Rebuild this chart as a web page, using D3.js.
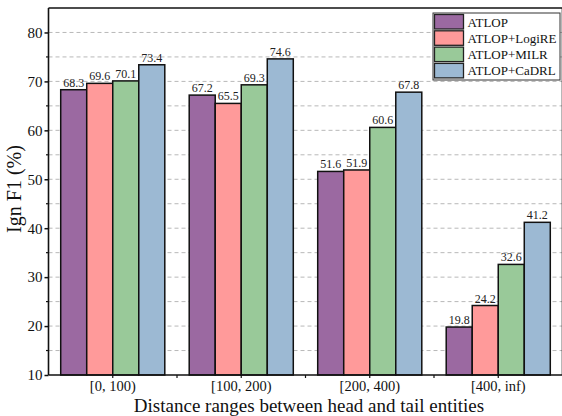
<!DOCTYPE html>
<html><head><meta charset="utf-8">
<script src="https://cdn.jsdelivr.net/npm/d3@7"></script>
<style>body{margin:0;background:#fff}svg{display:block}text{font-family:"Liberation Serif","Times New Roman",serif}</style>
</head><body>
<svg id="c" width="562" height="416"></svg>
<script>
const categories = ["[0, 100)", "[100, 200)", "[200, 400)", "[400, inf)"];
const seriesNames = ["ATLOP", "ATLOP+LogiRE", "ATLOP+MILR", "ATLOP+CaDRL"];
const atlop  = [68.3, 67.2, 51.6, 19.8];
const logire = [69.6, 65.5, 51.9, 24.2];
const milr   = [70.1, 69.3, 60.6, 32.6];
const cadrl  = [73.4, 74.6, 67.8, 41.2];
const yTicks = [10, 20, 30, 40, 50, 60, 70, 80];
const colors = ["#9b69a1", "#ff9a9a", "#99c999", "#9cb9d3"];
const series = [atlop, logire, milr, cadrl];

const svg = d3.select("#c");
const m = {l: 48.5, t: 8, r: 562.5, b: 375};
const x = d3.scaleBand().domain(categories).range([m.l, m.r]).paddingInner(0.19).paddingOuter(0.095);
const xs = d3.scaleBand().domain(seriesNames).range([0, x.bandwidth()]);
const y = d3.scaleLinear().domain([10, 85]).range([m.b, m.t]);

// grid
const grid = d3.range(15, 85, 5);
svg.append("g").selectAll("line").data(grid).join("line")
  .attr("x1", m.l).attr("x2", m.r).attr("y1", d => y(d)).attr("y2", d => y(d))
  .attr("stroke", "#b8b8b8").attr("stroke-width", 1).attr("stroke-dasharray", "4,3");

// bars
series.forEach((s, i) => {
  const g = svg.append("g");
  g.selectAll("rect").data(s).join("rect")
    .attr("x", (d, j) => x(categories[j]) + xs(seriesNames[i]))
    .attr("y", d => y(d)).attr("width", xs.bandwidth()).attr("height", d => y(10) - y(d))
    .attr("fill", colors[i]).attr("stroke", "#111").attr("stroke-width", 1.5);
  g.selectAll("text").data(s).join("text")
    .attr("x", (d, j) => x(categories[j]) + xs(seriesNames[i]) + xs.bandwidth() / 2)
    .attr("y", d => y(d) - 3).attr("text-anchor", "middle")
    .attr("font-size", 12).attr("fill", "#222").text(d => d.toFixed(1));
});

// y axis
const ya = d3.axisLeft(y).tickValues(yTicks).tickSize(4).tickPadding(2).tickFormat(d3.format("d"));
const yg = svg.append("g").attr("transform", `translate(${m.l},0)`).call(ya);
yg.select(".domain").remove();
yg.selectAll("text").attr("font-size", 15).attr("fill", "#111");
yg.selectAll("line").attr("stroke", "#111").attr("stroke-width", 1.5);
svg.append("g").selectAll("line").data(d3.range(15, 85, 10)).join("line")
  .attr("x1", m.l - 2.5).attr("x2", m.l).attr("y1", d => y(d)).attr("y2", d => y(d))
  .attr("stroke", "#111").attr("stroke-width", 1.2);

// x axis
const xa = d3.axisBottom(x).tickSize(3).tickPadding(2.5);
const xg = svg.append("g").attr("transform", `translate(0,${m.b})`).call(xa);
xg.select(".domain").remove();
xg.selectAll("text").attr("font-size", 14.5).attr("fill", "#111");
xg.selectAll("line").attr("stroke", "#111").attr("stroke-width", 1.2);
const gap = (x.step() - x.bandwidth()) / 2;
svg.append("g").selectAll("line").data(categories.slice(1)).join("line")
  .attr("x1", d => x(d) - gap).attr("x2", d => x(d) - gap)
  .attr("y1", m.b).attr("y2", m.b + 3).attr("stroke", "#111").attr("stroke-width", 1.2);

// frame
const fr = [[m.l, m.t, m.l, m.b], [m.l, m.b, m.r, m.b], [m.l, m.t, m.r, m.t], [m.r, m.t, m.r, m.b]];
svg.append("g").selectAll("line").data(fr).join("line")
  .attr("x1", d => d[0]).attr("y1", d => d[1]).attr("x2", d => d[2]).attr("y2", d => d[3])
  .attr("stroke", "#111").attr("stroke-width", 1.6);

// titles
svg.append("text").attr("x", 309).attr("y", 411.5).attr("text-anchor", "middle")
  .attr("font-size", 19).attr("fill", "#111").text("Distance ranges between head and tail entities");
svg.append("text").attr("transform", `translate(21,${189}) rotate(-90)`).attr("text-anchor", "middle")
  .attr("font-size", 20).attr("fill", "#111").text("Ign F1 (%)");

// legend
const lg = svg.append("g").attr("transform", "translate(433,13)");
lg.append("rect").attr("width", 127).attr("height", 67).attr("fill", "#fff").attr("stroke", "#333").attr("stroke-width", 1);
seriesNames.forEach((n, i) => {
  lg.append("rect").attr("x", 1.5).attr("y", 1.5 + i * 16.3).attr("width", 29).attr("height", 14.5)
    .attr("fill", colors[i]).attr("stroke", "#222").attr("stroke-width", 1.3);
  lg.append("text").attr("x", 34.5).attr("y", 13.5 + i * 16.3).attr("font-size", 13).attr("fill", "#111").text(n);
});
</script>
</body></html>
